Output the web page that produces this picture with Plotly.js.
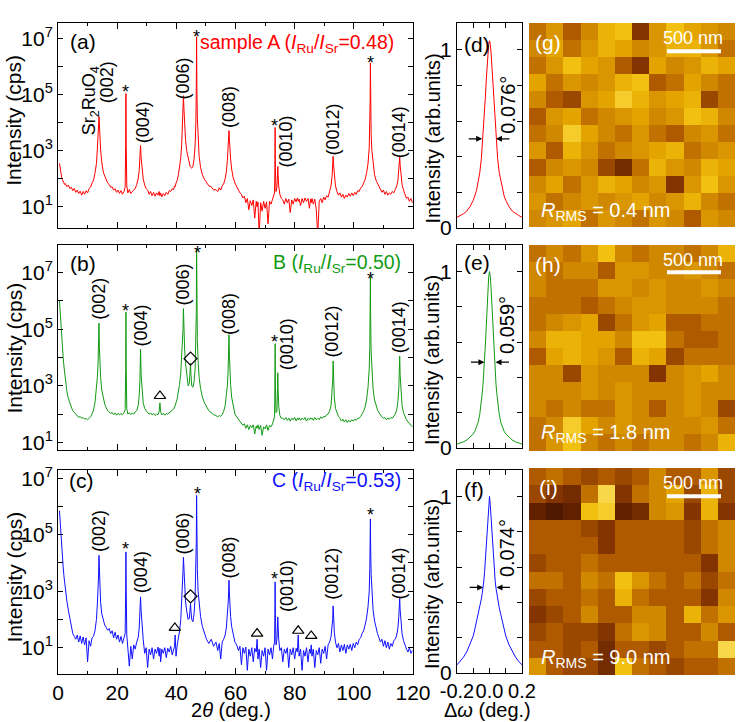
<!DOCTYPE html>
<html><head><meta charset="utf-8">
<script src="https://cdn.plot.ly/plotly-3.0.1.min.js"></script>
<style>html,body{margin:0;padding:0;background:#fff;}#plot{width:736px;height:722px;}</style>
</head><body><div id="plot"></div>
<script>
// ---------- XRD 2theta-theta scans (log10 of intensity in cps) ----------
const twoTheta = [
 0.5,0.75,1,1.25,1.5,1.75,2,2.25,2.5,3,3.5,4,4.5,5,5.5,6,6.5,7,7.5,8,8.5,9,9.5,10,10.5,11,11.5,12,12.5,13,
 13.3,13.55,13.7,13.85,14.0,14.15,14.4,14.8,15.3,
 15.8,16.3,16.8,17.3,17.8,18.3,18.8,19.3,19.8,20.3,20.8,21.3,21.8,22.3,
 22.7,22.88,22.97,23.06,23.25,
 23.6,24.1,24.6,25.1,25.6,26.1,26.6,27.1,27.45,
 27.7,27.9,28.1,28.4,28.8,
 29.3,29.8,30.3,30.8,31.3,31.8,32.3,32.8,33.3,33.8,34.2,34.45,34.7,35.1,35.6,36.1,36.6,37.1,37.6,38.1,38.6,39.1,39.4,39.6,39.9,40.3,40.7,41.1,41.5,41.8,42.05,
 42.25,42.4,42.55,42.8,43.1,43.5,44.0,44.4,44.65,44.8,44.95,45.2,45.6,46.0,46.35,46.6,46.75,46.85,46.95,47.1,47.35,47.7,48.2,48.8,49.5,50.2,51.0,51.8,52.6,53.4,
 54.0,54.5,55.0,55.5,56.0,56.5,56.9,57.25,57.5,57.65,57.8,57.95,58.1,58.35,58.7,59.2,59.8,60.4,
 61.0,61.5,62.0,62.5,63.0,63.5,64.0,64.5,65.0,65.5,66.0,66.5,67.0,67.3,67.6,68.0,68.5,69.0,69.5,70.0,70.5,71.0,71.5,72.0,72.5,72.9,
 73.2,73.32,73.4,73.48,73.7,74.0,74.2,74.3,74.4,74.6,75.0,75.5,
 76.0,76.5,77.0,77.5,78.0,78.5,79.0,79.5,80.0,80.5,80.9,81.2,81.5,82.0,82.5,83.0,83.5,84.0,84.5,85.0,85.35,85.6,85.85,86.3,86.8,87.3,87.8,88.3,88.8,89.3,89.8,90.3,90.8,91.3,91.8,92.3,92.65,
 92.85,93.0,93.15,93.4,93.8,
 94.3,94.8,95.3,95.8,96.3,96.8,97.3,97.8,98.3,98.8,99.3,99.8,100.3,100.8,101.3,101.8,102.3,102.8,103.3,103.8,104.3,104.8,105.2,
 105.4,105.52,105.6,105.68,105.85,106.1,106.5,107.0,
 107.5,108.0,108.5,109.0,109.5,110.0,110.5,111.0,111.5,112.0,112.5,113.0,113.5,114.0,114.5,114.9,115.2,
 115.35,115.5,115.65,115.9,116.3,116.8,117.3,117.8,118.3,118.8,119.3,119.8
];
const logA = [
 2.55,2.35,2.2,2.05,1.97,1.9,1.88,1.8,1.83,1.72,1.78,1.65,1.7,1.58,1.66,1.52,1.6,1.48,1.56,1.42,1.55,1.45,1.58,1.5,1.65,1.7,1.85,1.95,2.2,2.55,
 3.06,3.52,3.92,4.22,3.92,3.5,3.05,2.6,2.25,
 2.1,1.98,1.85,1.8,1.7,1.72,1.6,1.65,1.52,1.6,1.48,1.58,1.45,1.55,
 1.7,3.2,5.04,3.2,1.75,
 1.5,1.62,1.48,1.55,1.6,1.65,1.8,2.0,2.3,
 2.75,3.19,2.75,2.3,2.0,
 1.78,1.65,1.6,1.45,1.55,1.4,1.52,1.38,1.5,1.42,1.55,1.4,1.5,1.36,1.48,1.4,1.52,1.45,1.58,1.55,1.65,1.62,1.75,1.72,1.85,1.95,2.15,2.4,2.75,3.2,3.9,
 4.55,4.96,4.55,3.9,3.4,3.0,2.7,2.55,2.45,2.42,2.4,2.38,2.45,2.7,3.2,4.0,5.3,7.06,5.3,4.2,3.3,2.8,2.4,2.15,1.98,1.88,1.75,1.72,1.6,1.62,
 1.55,1.68,1.6,1.75,1.82,2.0,2.25,2.65,3.05,3.4,3.72,3.4,3.05,2.7,2.35,2.05,1.85,1.7,
 1.6,1.5,1.45,1.32,1.38,1.15,1.3,0.9,1.22,1.05,1.25,0.6,1.2,1.0,1.18,0.0,1.15,0.85,1.2,0.95,1.18,0.4,1.2,1.1,1.25,1.4,
 1.5,2.4,3.83,2.4,1.55,1.7,2.15,2.44,2.15,1.75,1.45,1.3,
 1.25,1.1,1.3,1.15,1.28,0.8,1.25,1.1,1.3,1.18,1.32,1.2,1.28,1.05,1.3,1.15,1.32,1.2,1.3,0.95,1.28,1.15,1.3,1.1,1.28,0.9,0.0,1.2,1.3,1.15,1.35,1.25,1.4,1.35,1.55,1.75,2.1,
 2.5,2.8,2.5,2.1,1.75,
 1.55,1.42,1.5,1.35,1.45,1.3,1.42,1.35,1.48,1.38,1.5,1.4,1.52,1.45,1.58,1.55,1.68,1.72,1.85,1.98,2.2,2.55,3.1,
 3.8,4.8,6.13,4.8,3.6,3.0,2.5,2.15,
 1.95,1.85,1.7,1.65,1.52,1.6,1.45,1.55,1.42,1.5,1.45,1.55,1.5,1.62,1.75,1.95,2.25,
 2.5,2.77,2.5,2.1,1.8,1.6,1.45,1.3,1.35,1.2,1.3,1.15
];
const logB = [
 6.0,5.5,5.1,4.7,4.35,4.0,3.7,3.4,3.15,2.8,2.55,2.35,2.25,2.12,2.05,1.98,1.95,1.88,1.92,1.85,1.88,1.82,1.85,1.8,1.85,1.9,2.0,2.15,2.4,2.9,
 3.3,3.8,4.36,5.22,4.36,3.8,3.3,2.85,2.55,
 2.35,2.22,2.12,2.08,2.02,2.06,1.98,2.04,1.96,2.03,1.97,2.02,1.98,2.05,
 2.15,3.6,5.61,3.6,2.2,
 2.0,2.05,1.98,2.04,2.0,2.08,2.12,2.3,2.65,
 3.2,4.29,3.4,2.75,2.4,
 2.2,2.1,2.05,2.0,2.04,1.97,2.02,1.95,2.0,1.98,2.1,2.4,2.08,1.97,2.03,1.96,2.02,2.0,2.05,2.08,2.12,2.18,2.25,2.3,2.4,2.55,2.75,3.05,3.45,4.0,4.8,
 5.0,5.73,5.0,4.3,3.8,3.35,3.0,3.1,3.4,3.79,3.4,3.0,2.95,3.15,3.6,4.4,5.6,7.85,5.6,4.6,3.9,3.3,2.9,2.6,2.4,2.25,2.12,2.05,1.98,1.95,
 1.9,1.95,1.92,1.98,2.1,2.3,2.6,3.0,3.52,4.05,4.81,4.05,3.52,3.05,2.6,2.25,2.0,1.9,
 1.82,1.75,1.68,1.6,1.66,1.5,1.62,1.45,1.6,1.52,1.62,1.3,1.58,1.5,1.62,1.45,1.6,1.25,1.55,1.48,1.62,1.42,1.6,1.55,1.65,1.8,
 1.9,3.0,4.49,3.0,2.05,2.1,2.9,3.46,2.9,2.3,1.95,1.85,
 1.85,1.8,1.88,1.78,1.86,1.75,1.85,1.8,1.88,1.76,1.85,1.8,1.87,1.78,1.86,1.8,1.88,1.75,1.85,1.8,1.87,1.82,1.86,1.78,1.88,1.8,1.86,1.8,1.9,1.85,1.92,1.9,1.98,2.0,2.1,2.3,2.7,
 3.2,3.88,3.2,2.6,2.2,
 2.05,1.92,1.85,1.75,1.82,1.72,1.8,1.7,1.78,1.72,1.8,1.75,1.82,1.78,1.85,1.85,1.92,2.0,2.1,2.25,2.5,2.95,3.6,
 4.4,5.5,6.85,5.5,4.2,3.5,2.9,2.5,
 2.3,2.15,2.05,1.95,1.9,1.85,1.88,1.8,1.86,1.82,1.88,1.85,1.92,2.0,2.15,2.45,2.9,
 3.4,4.05,3.4,2.75,2.3,2.05,1.9,1.8,1.72,1.65,1.6,1.55
];
const logC = [
 5.85,5.35,4.9,4.55,4.2,3.85,3.55,3.25,3.05,2.65,2.33,2.0,1.7,1.5,1.4,1.3,1.45,1.2,1.42,1.15,1.38,1.1,1.35,0.5,1.25,1.05,1.35,1.4,1.6,2.0,
 2.55,2.95,3.5,4.27,3.5,3.0,2.6,2.2,1.95,
 1.8,1.72,1.62,1.68,1.5,1.6,1.35,1.55,1.3,1.45,1.2,1.4,1.15,1.35,
 1.5,3.0,4.39,3.0,1.45,
 1.1,0.35,1.05,0.6,1.1,0.95,1.2,1.35,1.7,
 2.2,2.8,2.3,1.7,1.3,
 0.8,1.0,0.3,0.95,0.75,1.0,0.6,0.95,0.8,1.02,0.7,0.98,0.5,0.95,0.8,1.0,0.65,0.98,0.85,1.05,0.75,1.0,1.05,1.45,0.7,1.1,1.3,1.6,2.0,2.55,3.3,
 3.7,4.2,3.7,3.1,2.65,2.3,2.0,2.05,2.3,2.56,2.3,2.0,1.92,2.2,2.8,3.6,4.8,6.39,4.8,3.8,3.0,2.5,2.1,1.75,1.55,1.3,1.15,1.3,1.05,1.2,
 0.9,1.15,0.6,1.2,1.3,1.45,1.7,2.1,2.55,2.9,3.39,2.9,2.55,2.1,1.75,1.45,1.2,1.1,
 0.9,1.05,0.4,1.0,0.8,1.02,0.2,0.95,0.7,1.0,0.5,0.98,0.85,1.3,0.6,0.95,0.3,0.9,0.7,1.0,0.2,0.95,0.75,1.0,0.6,1.05,
 1.2,2.2,3.33,2.2,1.1,1.3,1.8,2.09,1.8,1.3,0.9,1.0,
 0.5,0.95,0.8,1.0,0.3,0.95,0.75,1.0,0.6,0.98,0.85,1.45,0.7,0.95,0.2,0.9,0.7,1.0,0.5,0.95,0.8,1.1,0.7,0.95,0.3,0.9,0.75,1.0,0.45,0.95,0.8,1.05,0.6,1.1,1.2,1.4,1.75,
 2.0,2.48,2.0,1.55,1.2,
 1.0,1.15,0.85,1.1,0.9,1.12,0.8,1.1,0.95,1.12,0.9,1.15,1.0,1.2,1.1,1.3,1.35,1.5,1.6,1.8,2.05,2.45,3.0,
 3.8,4.6,5.56,4.6,3.6,2.9,2.35,1.95,
 1.7,1.5,1.35,1.2,1.3,1.05,1.25,1.0,1.2,0.95,1.15,1.05,1.25,1.3,1.45,1.7,2.1,
 2.35,2.74,2.35,1.9,1.5,1.25,1.05,0.95,0.85,1.0,0.8,0.9
];
// impurity peaks (triangle) and (diamond) marks, [2theta, log10 I]
const triB = [[34.46, 2.64]];
const diaB = [[44.8, 3.96]];
const triC = [[39.5, 1.7],[67.3, 1.5],[81.2, 1.6],[85.6, 1.42]];
const diaC = [[44.8, 2.82]];
// substrate peaks (*), [2theta, log10 of mark]
const starA = [[22.97,5.2],[46.9,7.15],[73.25,3.98],[105.6,6.23]];
const starB = [[22.97,5.76],[47.0,7.79],[73.25,4.64],[105.6,6.9]];
const starC = [[22.97,4.59],[47.0,6.54],[73.25,3.53],[105.6,5.8]];
// film reflections
const peakNames = ['(002)','(004)','(006)','(008)','(0010)','(0012)','(0014)'];
const peakLabA = [[16.7,5.45],[28.6,4.0],[42.4,5.59],[57.8,4.56],[77.2,3.34],[93.0,3.76],[115.4,3.67]];
const peakLabB = [[13.85,6.08],[28.1,5.14],[42.4,6.6],[57.8,5.54],[77.4,4.47],[92.8,4.9],[115.2,5.06]];
const peakLabC = [[13.85,5.13],[28.1,3.68],[42.4,5.06],[57.8,4.19],[77.4,3.18],[92.8,3.6],[115.2,3.62]];

// ---------- rocking curves ----------
const omega = [-0.2,-0.18,-0.16,-0.14,-0.12,-0.1,-0.09,-0.08,-0.07,-0.06,-0.05,-0.045,-0.04,-0.035,-0.03,-0.025,-0.02,-0.015,-0.01,-0.005,0,0.005,0.01,0.015,0.02,0.025,0.03,0.035,0.04,0.045,0.05,0.06,0.07,0.08,0.09,0.1,0.12,0.14,0.16,0.18,0.2];
const rockD = [0.06,0.07,0.08,0.095,0.12,0.155,0.18,0.21,0.26,0.31,0.39,0.45,0.51,0.58,0.66,0.74,0.83,0.91,0.98,1.03,1.05,1.03,0.98,0.91,0.83,0.74,0.66,0.58,0.51,0.45,0.39,0.31,0.26,0.21,0.18,0.155,0.12,0.095,0.08,0.07,0.06];
const rockE = [0.022,0.028,0.035,0.045,0.06,0.08,0.095,0.115,0.145,0.19,0.255,0.31,0.36,0.42,0.5,0.59,0.69,0.8,0.9,0.97,1.0,0.97,0.9,0.8,0.69,0.59,0.5,0.42,0.36,0.31,0.255,0.19,0.145,0.115,0.095,0.08,0.06,0.045,0.035,0.028,0.022];
const rockF = [0.046,0.065,0.09,0.12,0.16,0.21,0.25,0.29,0.33,0.37,0.42,0.45,0.48,0.52,0.575,0.64,0.71,0.79,0.87,0.95,1.0,0.95,0.87,0.79,0.71,0.64,0.575,0.52,0.48,0.45,0.42,0.37,0.33,0.29,0.25,0.21,0.16,0.12,0.09,0.065,0.046];
const fwhmText = ['0.076°','0.059°','0.074°'];

// ---------- AFM height maps (coarse, relative brightness 0..1) ----------
const afmG = [
 [0.5,0.6,0.45,0.55,0.7,0.75,0.35,0.6,0.75,0.65,0.6,0.55],
 [0.55,0.65,0.5,0.6,0.7,0.65,0.55,0.6,0.7,0.7,0.6,0.5],
 [0.5,0.6,0.75,0.65,0.6,0.45,0.35,0.65,0.55,0.6,0.7,0.65],
 [0.65,0.5,0.6,0.55,0.6,0.7,0.75,0.45,0.5,0.65,0.55,0.5],
 [0.55,0.45,0.4,0.6,0.65,0.8,0.7,0.6,0.65,0.7,0.4,0.5],
 [0.45,0.6,0.65,0.5,0.55,0.6,0.65,0.55,0.6,0.75,0.7,0.55],
 [0.5,0.55,0.8,0.65,0.55,0.5,0.6,0.5,0.45,0.55,0.6,0.5],
 [0.6,0.45,0.7,0.6,0.5,0.55,0.6,0.65,0.7,0.5,0.55,0.6],
 [0.45,0.55,0.6,0.55,0.4,0.3,0.5,0.7,0.6,0.55,0.7,0.65],
 [0.55,0.65,0.5,0.6,0.7,0.65,0.55,0.6,0.35,0.6,0.75,0.6],
 [0.6,0.5,0.55,0.6,0.55,0.6,0.65,0.55,0.6,0.7,0.55,0.5],
 [0.55,0.6,0.65,0.5,0.6,0.55,0.5,0.6,0.55,0.45,0.6,0.55]
];
const afmH = [
 [0.5,0.55,0.5,0.6,0.75,0.55,0.5,0.55,0.55,0.5,0.55,0.7],
 [0.55,0.5,0.55,0.55,0.45,0.6,0.6,0.55,0.55,0.6,0.55,0.5],
 [0.55,0.5,0.5,0.5,0.6,0.6,0.55,0.6,0.55,0.55,0.6,0.55],
 [0.5,0.5,0.5,0.45,0.5,0.55,0.6,0.6,0.55,0.55,0.55,0.5],
 [0.5,0.55,0.6,0.65,0.4,0.5,0.6,0.65,0.45,0.45,0.5,0.5],
 [0.55,0.7,0.7,0.65,0.65,0.55,0.75,0.75,0.5,0.45,0.45,0.5],
 [0.45,0.65,0.7,0.65,0.6,0.45,0.7,0.65,0.4,0.5,0.5,0.5],
 [0.55,0.55,0.4,0.6,0.55,0.55,0.55,0.35,0.55,0.6,0.65,0.55],
 [0.55,0.55,0.55,0.6,0.55,0.6,0.55,0.55,0.55,0.6,0.55,0.55],
 [0.55,0.5,0.55,0.5,0.5,0.6,0.55,0.45,0.55,0.6,0.55,0.4],
 [0.5,0.55,0.8,0.65,0.55,0.6,0.55,0.55,0.55,0.55,0.6,0.5],
 [0.5,0.6,0.75,0.55,0.5,0.55,0.5,0.55,0.55,0.5,0.55,0.7]
];
const afmI = [
 [0.45,0.5,0.45,0.4,0.45,0.4,0.45,0.55,0.45,0.45,0.6,0.4],
 [0.4,0.35,0.3,0.5,0.85,0.35,0.5,0.55,0.65,0.4,0.7,0.4],
 [0.25,0.2,0.25,0.75,0.8,0.25,0.3,0.55,0.6,0.35,0.7,0.35],
 [0.45,0.45,0.45,0.4,0.35,0.45,0.45,0.45,0.45,0.4,0.5,0.55],
 [0.45,0.45,0.45,0.45,0.35,0.45,0.45,0.45,0.45,0.4,0.5,0.55],
 [0.4,0.45,0.45,0.5,0.45,0.45,0.45,0.45,0.45,0.45,0.35,0.55],
 [0.5,0.5,0.45,0.55,0.5,0.75,0.6,0.5,0.45,0.5,0.4,0.5],
 [0.4,0.45,0.45,0.5,0.45,0.7,0.5,0.45,0.45,0.45,0.35,0.55],
 [0.35,0.4,0.45,0.55,0.45,0.45,0.55,0.55,0.45,0.7,0.5,0.6],
 [0.4,0.45,0.4,0.4,0.35,0.5,0.6,0.55,0.45,0.45,0.55,0.45],
 [0.45,0.45,0.4,0.45,0.3,0.45,0.45,0.4,0.45,0.5,0.5,0.85],
 [0.6,0.45,0.4,0.4,0.3,0.75,0.5,0.45,0.4,0.45,0.45,0.5]
];
const rmsText = ['0.4 nm','1.8 nm','9.0 nm'];

if ([logA,logB,logC].some(a => a.length !== twoTheta.length))
  throw new Error('length mismatch ' + twoTheta.length + ' ' + [logA.length,logB.length,logC.length].join(','));

// ---------- layout geometry ----------
const W = 736, H = 722;
const fx = p => p / W;
const fy = p => 1 - p / H;
const fyDom = (t, b) => [1 - b / H, 1 - t / H];
const FONT = 'Liberation Sans, Arial, Helvetica, sans-serif';
const colA = '#ff0000', colB = '#129a12', colC = '#1010ff';
const xXRD = [fx(58), fx(413)], xROCK = [fx(457), fx(522)], xAFM = [fx(529), fx(735)];
const rows = {a:[23,228], b:[245,450], c:[470,674], d:[23,228], e:[245,448], f:[470,673], g:[23,227], h:[245,451], i:[468,675]};
const pow10 = a => a.map(v => Math.pow(10, v));

const traces = [];
traces.push({x: twoTheta, y: pow10(logA), xaxis:'x', yaxis:'y', mode:'lines', line:{color:colA, width:1}, hoverinfo:'skip'});
traces.push({x: twoTheta, y: pow10(logB), xaxis:'x2', yaxis:'y2', mode:'lines', line:{color:colB, width:1}, hoverinfo:'skip'});
traces.push({x: twoTheta, y: pow10(logC), xaxis:'x3', yaxis:'y3', mode:'lines', line:{color:colC, width:1}, hoverinfo:'skip'});
function markTrace(pts, sym, xa, ya, size){
  return {x: pts.map(p=>p[0]), y: pts.map(p=>Math.pow(10,p[1])), xaxis:xa, yaxis:ya, mode:'markers',
    marker:{symbol:sym, size:size, color:'#000', line:{color:'#000', width:1.2}}, hoverinfo:'skip'};
}
traces.push(markTrace(triB,'triangle-up-open','x2','y2',10));
traces.push(markTrace(diaB,'diamond-open','x2','y2',10));
traces.push(markTrace(triC,'triangle-up-open','x3','y3',10));
traces.push(markTrace(diaC,'diamond-open','x3','y3',10));
traces.push({x: omega, y: rockD, xaxis:'x4', yaxis:'y4', mode:'lines', line:{color:colA, width:1}, hoverinfo:'skip'});
traces.push({x: omega, y: rockE, xaxis:'x5', yaxis:'y5', mode:'lines', line:{color:colB, width:1}, hoverinfo:'skip'});
traces.push({x: omega, y: rockF, xaxis:'x6', yaxis:'y6', mode:'lines', line:{color:colC, width:1}, hoverinfo:'skip'});
const afmScale = [[0,'#200600'],[0.2,'#501800'],[0.35,'#843400'],[0.45,'#b05a00'],[0.55,'#d08800'],[0.65,'#e4a400'],[0.75,'#f2c010'],[0.85,'#f8d848'],[1,'#fff4b0']];
[afmG, afmH, afmI].forEach((z, k) => {
  traces.push({z: z, type:'heatmap', xaxis:'x'+(7+k), yaxis:'y'+(7+k), colorscale: afmScale, zmin:0, zmax:1,
    zsmooth:false, xgap:0, ygap:0, showscale:false, hoverinfo:'skip'});
});

const axLine = {showline:true, linecolor:'#000', linewidth:1, showgrid:false, zeroline:false, tickcolor:'#000', tickwidth:1};
function xrdX(dom, anchor, labels){
  return Object.assign({domain: dom, anchor: anchor, range:[0,120], tickmode:'linear', tick0:0, dtick:20,
    ticks:'inside', ticklen:6, mirror:'ticks', showticklabels: labels, tickangle:0,
    minor:{dtick:10, ticks:'inside', ticklen:3, tickcolor:'#000', tickwidth:1},
    tickfont:{size:21, color:'#000'}}, axLine);
}
function xrdY(row, anchor, range){
  return Object.assign({domain: fyDom(row[0],row[1]), anchor: anchor, type:'log', range: range, tickmode:'array',
    tickvals:[1e1,1e2,1e3,1e4,1e5,1e6,1e7], ticktext:['10<sup>1</sup>','','10<sup>3</sup>','','10<sup>5</sup>','','10<sup>7</sup>'],
    ticks:'inside', ticklen:5, mirror:'ticks', tickfont:{size:21, color:'#000'}}, axLine);
}
function rockX(anchor, labels){
  return Object.assign({domain: xROCK, anchor: anchor, range:[-0.2,0.2], tickmode:'array',
    tickvals:[-0.2,-0.1,0,0.1,0.2], ticktext:['-0.2','','0.0','','0.2'], tickangle:0,
    ticks:'inside', ticklen:5, mirror:'ticks', showticklabels: labels, tickfont:{size:20, color:'#000'}}, axLine);
}
function rockY(row, anchor){
  return Object.assign({domain: fyDom(row[0],row[1]), anchor: anchor, range:[0,1.15], tickmode:'array',
    tickvals:[0,0.2,0.4,0.6,0.8,1.0], ticktext:['0','','','','','1'],
    ticks:'inside', ticklen:5, mirror:'ticks', tickfont:{size:21, color:'#000'}}, axLine);
}
function afmX(anchor){ return {domain: xAFM, anchor: anchor, range:[-0.5,11.5], visible:false}; }
function afmY(row, anchor){ return {domain: fyDom(row[0],row[1]), anchor: anchor, range:[11.5,-0.5], visible:false}; }

const ann = [];
function txt(o){ ann.push(Object.assign({showarrow:false, xanchor:'center', yanchor:'middle', font:{family:FONT, size:20, color:'#000'}}, o)); }
// XRD panels
const xrdPanels = [
  {xa:'x', ya:'y', letter:'(a)', ly:6.89, lx:3.4, sample:'sample A (<i>I</i><sub>Ru</sub>/<i>I</i><sub>Sr</sub>=0.48)', sx:114.3, sy:6.82, col:colA, labs:peakLabA, stars:starA},
  {xa:'x2', ya:'y2', letter:'(b)', ly:7.32, lx:3.4, sample:'B (<i>I</i><sub>Ru</sub>/<i>I</i><sub>Sr</sub>=0.50)', sx:116.6, sy:7.34, col:colB, labs:peakLabB, stars:starB},
  {xa:'x3', ya:'y3', letter:'(c)', ly:6.92, lx:3.0, sample:'C (<i>I</i><sub>Ru</sub>/<i>I</i><sub>Sr</sub>=0.53)', sx:116.6, sy:6.89, col:colC, labs:peakLabC, stars:starC}
];
xrdPanels.forEach(p => {
  txt({xref:p.xa, yref:p.ya, x:p.lx, y:p.ly, xanchor:'left', text:p.letter, font:{family:FONT, size:21, color:'#000'}});
  txt({xref:p.xa, yref:p.ya, x:p.sx, y:p.sy, xanchor:'right', text:p.sample, font:{family:FONT, size:19.5, color:p.col}});
  p.labs.forEach((l, i) => txt({xref:p.xa, yref:p.ya, x:l[0], y:l[1], textangle:-90, text:peakNames[i], font:{family:FONT, size:18, color:'#000'}}));
  p.stars.forEach(s => txt({xref:p.xa, yref:p.ya, x:s[0], y:s[1], yshift:-3, text:'*', font:{family:FONT, size:18, color:'#000'}}));
});
txt({xref:'x', yref:'y', x:10.9, y:4.77, textangle:-90, text:'Sr<sub>2</sub>RuO<sub>4</sub>', font:{family:FONT, size:18, color:'#000'}});
// axis titles
[120.8, 348.5, 577.5].forEach(p => txt({xref:'paper', yref:'paper', x:fx(14), y:fy(p), textangle:-90, text:'Intensity (cps)', font:{family:FONT, size:21, color:'#000'}}));
[138.5, 360, 584].forEach(p => txt({xref:'paper', yref:'paper', x:fx(432), y:fy(p), textangle:-90, text:'Intensity (arb.units)', font:{family:FONT, size:20, color:'#000'}}));
txt({xref:'paper', yref:'paper', x:fx(231), y:fy(710), text:'2<i>θ</i> (deg.)', font:{family:FONT, size:20, color:'#000'}});
txt({xref:'paper', yref:'paper', x:fx(488), y:fy(710), text:'Δ<i>ω</i> (deg.)', font:{family:FONT, size:20, color:'#000'}});
// rocking panels
const rockPanels = [
  {xa:'x4', ya:'y4', letter:'(d)', ly:1.03, hm:0.5, lt:-0.045, rt:0.04, ty:0.69},
  {xa:'x5', ya:'y5', letter:'(e)', ly:1.05, hm:0.486, lt:-0.031, rt:0.037, ty:0.695},
  {xa:'x6', ya:'y6', letter:'(f)', ly:1.04, hm:0.485, lt:-0.039, rt:0.043, ty:0.706}
];
rockPanels.forEach((p, k) => {
  txt({xref:p.xa, yref:p.ya, x:-0.168, y:p.ly, xanchor:'left', text:p.letter, font:{family:FONT, size:21, color:'#000'}});
  ann.push({xref:p.xa, yref:p.ya, x:p.lt, y:p.hm, ax:-15, ay:0, showarrow:true, arrowhead:2, arrowsize:1, arrowwidth:1.2, arrowcolor:'#000', text:''});
  ann.push({xref:p.xa, yref:p.ya, x:p.rt, y:p.hm, ax:15, ay:0, showarrow:true, arrowhead:2, arrowsize:1, arrowwidth:1.2, arrowcolor:'#000', text:''});
  txt({xref:p.xa, yref:p.ya, x:0.112, y:p.ty, textangle:-90, text:fwhmText[k], font:{family:FONT, size:20, color:'#000'}});
});
// AFM overlays
const afmRows = [[42, 38.2, 51.3, 211], [264.7, 260, 272.3, 433], [487.7, 483, 496.3, 658]];
const shapes = [];
['(g)','(h)','(i)'].forEach((l, k) => {
  const r = afmRows[k];
  txt({xref:'paper', yref:'paper', x:fx(548), y:fy(r[0]), text:l, font:{family:FONT, size:21, color:'#fff'}});
  txt({xref:'paper', yref:'paper', x:fx(693), y:fy(r[1]), text:'500 nm', font:{family:FONT, size:18, color:'#fff'}});
  shapes.push({type:'line', xref:'paper', yref:'paper', x0:fx(667), x1:fx(721), y0:fy(r[2]), y1:fy(r[2]), line:{color:'#fff', width:4}});
  txt({xref:'paper', yref:'paper', x:fx(539), y:fy(r[3]), xanchor:'left', text:'<i>R</i><sub>RMS</sub> = ' + rmsText[k], font:{family:FONT, size:20, color:'#fff'}});
});

const layout = {
  width: W, height: H, margin:{l:0, r:0, t:0, b:0}, paper_bgcolor:'#fff', plot_bgcolor:'rgba(0,0,0,0)',
  showlegend:false, font:{family:FONT, color:'#000'},
  xaxis: xrdX(xXRD,'y',false), yaxis: xrdY(rows.a,'x',[0.25,7.55]),
  xaxis2: xrdX(xXRD,'y2',false), yaxis2: xrdY(rows.b,'x2',[0.73,7.98]),
  xaxis3: xrdX(xXRD,'y3',true), yaxis3: xrdY(rows.c,'x3',[0.07,7.29]),
  xaxis4: rockX('y4',false), yaxis4: rockY(rows.d,'x4'),
  xaxis5: rockX('y5',false), yaxis5: rockY(rows.e,'x5'),
  xaxis6: rockX('y6',true), yaxis6: rockY(rows.f,'x6'),
  xaxis7: afmX('y7'), yaxis7: afmY(rows.g,'x7'),
  xaxis8: afmX('y8'), yaxis8: afmY(rows.h,'x8'),
  xaxis9: afmX('y9'), yaxis9: afmY(rows.i,'x9'),
  annotations: ann, shapes: shapes
};
Plotly.newPlot('plot', traces, layout, {staticPlot:true, displayModeBar:false});
</script></body></html>
